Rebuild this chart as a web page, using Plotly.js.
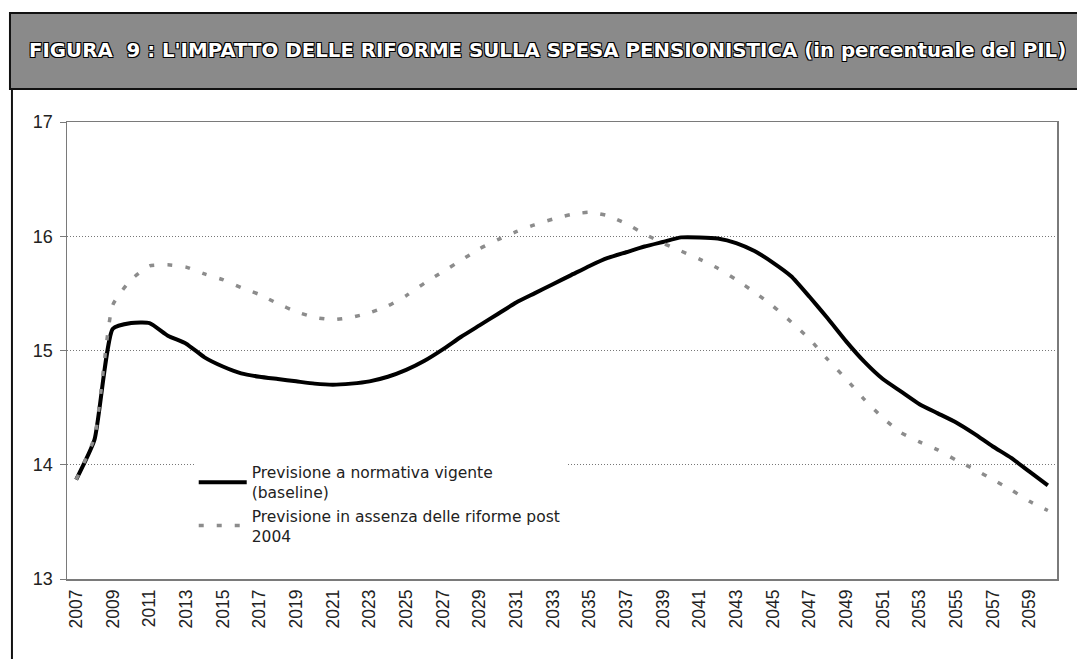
<!DOCTYPE html>
<html>
<head>
<meta charset="utf-8">
<script src="https://cdn.plot.ly/plotly-3.0.1.min.js"></script>
<style>
  html, body { margin: 0; padding: 0; background: #fff; }
  #spesa-plot { width: 1077px; height: 659px; }
</style>
</head>
<body>
<div id="spesa-plot"></div>
<script>
// anni di previsione
const anni = [];
for (let a = 2007; a <= 2060; a++) anni.push(a);

const etichetteAnni = [2007, 2009, 2011, 2013, 2015, 2017, 2019, 2021, 2023, 2025, 2027, 2029, 2031, 2033,
  2035, 2037, 2039, 2041, 2043, 2045, 2047, 2049, 2051, 2053, 2055, 2057, 2059];

// spesa pensionistica in % del PIL
const baseline = [13.87, 14.22, 15.19, 15.24, 15.24, 15.13, 15.06, 14.94, 14.86, 14.80,
  14.77, 14.75, 14.73, 14.71, 14.70, 14.71, 14.73, 14.77, 14.83, 14.91,
  15.01, 15.12, 15.22, 15.32, 15.42, 15.50, 15.58, 15.66, 15.74, 15.81,
  15.86, 15.91, 15.95, 15.99, 15.99, 15.98, 15.94, 15.87, 15.77, 15.65,
  15.47, 15.28, 15.08, 14.90, 14.75, 14.64, 14.53, 14.45, 14.37, 14.27,
  14.16, 14.06, 13.94, 13.82];

const senzaRiforme = [13.87, 14.24, 15.40, 15.62, 15.74, 15.75, 15.73, 15.67, 15.62, 15.55,
  15.49, 15.41, 15.34, 15.29, 15.27, 15.29, 15.33, 15.39, 15.48, 15.59,
  15.69, 15.79, 15.89, 15.97, 16.04, 16.10, 16.15, 16.19, 16.21, 16.18,
  16.11, 16.02, 15.94, 15.87, 15.80, 15.72, 15.62, 15.51, 15.39, 15.25,
  15.10, 14.92, 14.75, 14.57, 14.41, 14.28, 14.20, 14.13, 14.04, 13.96,
  13.87, 13.78, 13.68, 13.60];

const nomiSerie = ['Previsione a normativa vigente<br>(baseline)',
  'Previsione in assenza delle riforme post<br>2004'];

const titolo = "FIGURA  9 : L'IMPATTO DELLE RIFORME SULLA SPESA PENSIONISTICA (in percentuale del PIL)";

const spesaPlot = {
  data: [{
    x: anni,
    y: baseline,
    name: nomiSerie[0],
    type: 'scatter',
    mode: 'lines',
    line: {color: '#000000', width: 4, shape: 'spline', smoothing: 0.5}
  }, {
    x: anni,
    y: senzaRiforme,
    name: nomiSerie[1],
    type: 'scatter',
    mode: 'lines',
    line: {color: '#8c8c8c', width: 3.5, dash: '5px,13px', shape: 'spline', smoothing: 0.5}
  }],

  layout: {
    width: 1077,
    height: 659,
    paper_bgcolor: '#ffffff',
    plot_bgcolor: '#ffffff',
    margin: {l: 67, r: 20, t: 122, b: 80},
    showlegend: true,
    font: {family: 'Liberation Sans, Arial, sans-serif', color: '#222222'},

    legend: {
      x: 0.128,
      y: 0.27,
      xanchor: 'left',
      yanchor: 'top',
      bgcolor: '#ffffff',
      borderwidth: 0,
      font: {family: 'DejaVu Sans, sans-serif', size: 15.5, color: '#222222'},
      tracegroupgap: 0,
      itemwidth: 48
    },

    xaxis: {
      range: [2006.5, 2060.5],
      tickvals: etichetteAnni,
      ticktext: etichetteAnni.map(String),
      tickangle: -90,
      tickfont: {size: 17.5, color: '#222222'},
      ticks: '',
      ticklabelstandoff: 2,
      showgrid: false,
      zeroline: false,
      showline: true,
      mirror: true,
      linecolor: '#7a7a7a',
      linewidth: 1.5
    },

    yaxis: {
      range: [13, 17],
      dtick: 1,
      tickfont: {size: 18, color: '#222222'},
      ticks: 'outside',
      ticklen: 6,
      tickcolor: '#7a7a7a',
      ticklabelstandoff: 3,
      showgrid: true,
      gridcolor: '#777777',
      griddash: '1px,2px',
      gridwidth: 1,
      zeroline: false,
      showline: true,
      mirror: true,
      linecolor: '#7a7a7a',
      linewidth: 1.5
    },

    shapes: [{
      // fascia del titolo
      type: 'rect', xref: 'paper', yref: 'paper',
      x0: -0.0576, x1: 1.03, y0: 1.0722, y1: 1.2385,
      fillcolor: '#8a8a8a',
      line: {color: '#111111', width: 2},
      layer: 'below'
    }, {
      // bordo sinistro della figura
      type: 'line', xref: 'paper', yref: 'paper',
      x0: -0.0556, x1: -0.0556, y0: 1.0722, y1: -0.2,
      line: {color: '#111111', width: 2}
    }],

    annotations: [{
      text: '<b>' + titolo + '</b>',
      xref: 'paper', yref: 'paper',
      x: 0.485, y: 1.1554,
      xanchor: 'center', yanchor: 'middle',
      showarrow: false,
      font: {family: 'DejaVu Sans, sans-serif', size: 19.8, color: '#ffffff',
        shadow: '1px 1px 0 #000, -1px -1px 0 #000, 1px -1px 0 #000, -1px 1px 0 #000'}
    }]
  },

  config: {
    displayModeBar: false,
    staticPlot: true
  },

  init: function () {
    Plotly.newPlot('spesa-plot', spesaPlot.data, spesaPlot.layout, spesaPlot.config);
  }
};

spesaPlot.init();
</script>
</body>
</html>
